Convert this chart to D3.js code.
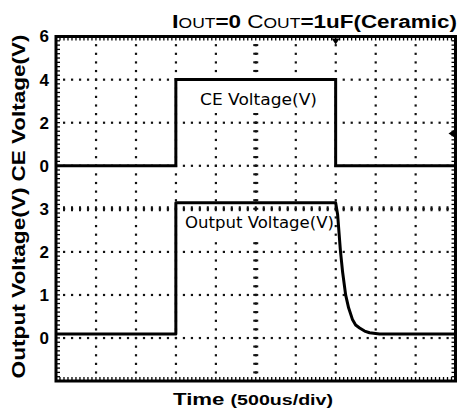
<!DOCTYPE html>
<html>
<head>
<meta charset="utf-8">
<script src="https://cdn.jsdelivr.net/npm/d3@7/dist/d3.min.js"></script>
<style>
body { margin: 0; background: #fff; }
svg { display: block; }
</style>
</head>
<body>
<div id="chart"></div>
<script>
// time in us (500us/div, 10 div)
var timeTicks = [0, 500, 1000, 1500, 2000, 2500, 3000, 3500, 4000, 4500, 5000];
var ceTicks = [0, 2, 4, 6];
var outTicks = [0, 1, 2, 3];

// CE voltage (V)
var ceTime = [0, 1500, 1500, 3500, 3500, 5000];
var ceVolt = [0, 0, 4, 4, 0, 0];

// Output voltage (V)
var outTime = [0, 1500, 1500, 3500, 3525, 3559, 3587, 3625, 3662, 3712, 3750, 3800, 3862, 3925, 4050, 5000];
var outVolt = [0.09, 0.09, 3.14, 3.14, 2.86, 2.04, 1.53, 1.00, 0.70, 0.42, 0.30, 0.23, 0.16, 0.12, 0.09, 0.09];

// scope markers
var triggerTime = 3500;
var triggerLevel = 1.5;

var W = 458, H = 416;
var font = "'Liberation Sans', Arial, sans-serif";

var svg = d3.select('#chart').append('svg')
    .attr('width', W)
    .attr('height', H);

// Scales
var x = d3.scaleLinear().domain([0, 5000]).range([56, 455.5]);
var yCE = d3.scaleLinear().domain([-10, 6]).range([381, 36.5]);
var yOut = d3.scaleLinear().domain([-1, 7]).range([381, 36.5]);
var yDiv = d3.scaleLinear().domain([0, 8]).range([36.5, 381]);
var xDiv = d3.scaleLinear().domain([0, 10]).range([56, 455.5]);

var grid = svg.append('g').attr('class', 'grid');

// dotted graticule, 5 dots per division
var i, j;
for (i = 1; i < 10; i++) {
    for (j = 1; j < 40; j++) {
        grid.append('rect')
            .attr('x', xDiv(i) - 1).attr('y', yDiv(j / 5) - 1)
            .attr('width', 2.2).attr('height', 2.2).attr('fill', '#111');
    }
}
for (i = 1; i < 8; i++) {
    for (j = 1; j < 50; j++) {
        grid.append('rect')
            .attr('x', xDiv(j / 5) - 1).attr('y', yDiv(i) - 1)
            .attr('width', 2.2).attr('height', 2.2).attr('fill', '#111');
    }
}
// center lines with minor ticks
for (j = 1; j < 40; j++) {
    grid.append('line')
        .attr('x1', xDiv(5) - 2.5).attr('x2', xDiv(5) + 2.5)
        .attr('y1', yDiv(j / 5)).attr('y2', yDiv(j / 5))
        .attr('stroke', '#111').attr('stroke-width', 2);
}
for (j = 1; j < 50; j++) {
    grid.append('line')
        .attr('x1', xDiv(j / 5)).attr('x2', xDiv(j / 5))
        .attr('y1', yDiv(4) - 2.5).attr('y2', yDiv(4) + 2.5)
        .attr('stroke', '#111').attr('stroke-width', 2);
}

// white boxes behind the inside labels
svg.append('rect')
    .attr('x', x(1500) + 3).attr('y', yCE(4) + 2)
    .attr('width', x(3500) - x(1500) - 6).attr('height', 30)
    .attr('fill', '#fff');
svg.append('rect')
    .attr('x', x(1500) + 3).attr('y', yDiv(4) + 3)
    .attr('width', x(3500) - x(1500) - 6).attr('height', 27)
    .attr('fill', '#fff');

// frame
svg.append('rect')
    .attr('x', xDiv(0)).attr('y', yDiv(0))
    .attr('width', xDiv(10) - xDiv(0)).attr('height', yDiv(8) - yDiv(0))
    .attr('fill', 'none').attr('stroke', '#000').attr('stroke-width', 3);

// frame ticks, 10 per division
var ft = svg.append('g').attr('stroke', '#000').attr('stroke-width', 1.3);
for (j = 1; j < 100; j++) {
    ft.append('line').attr('x1', xDiv(j / 10)).attr('x2', xDiv(j / 10))
        .attr('y1', yDiv(0)).attr('y2', yDiv(0) + 4);
    ft.append('line').attr('x1', xDiv(j / 10)).attr('x2', xDiv(j / 10))
        .attr('y1', yDiv(8)).attr('y2', yDiv(8) - 4);
}
for (j = 1; j < 80; j++) {
    ft.append('line').attr('y1', yDiv(j / 10)).attr('y2', yDiv(j / 10))
        .attr('x1', xDiv(0)).attr('x2', xDiv(0) + 4);
    ft.append('line').attr('y1', yDiv(j / 10)).attr('y2', yDiv(j / 10))
        .attr('x1', xDiv(10)).attr('x2', xDiv(10) - 4);
}

// trigger markers
svg.append('path')
    .attr('d', 'M' + (x(triggerTime) - 4) + ',' + (yDiv(0) + 2) + 'L' + (x(triggerTime) + 4) + ',' + (yDiv(0) + 2) +
        'L' + x(triggerTime) + ',' + (yDiv(0) + 8) + 'Z')
    .attr('fill', '#000');
svg.append('path')
    .attr('d', 'M' + (xDiv(10) - 1) + ',' + (yCE(triggerLevel) - 4) + 'L' + (xDiv(10) - 1) + ',' + (yCE(triggerLevel) + 4) +
        'L' + (xDiv(10) - 7) + ',' + yCE(triggerLevel) + 'Z')
    .attr('fill', '#000');

// waveforms
var ceData = ceTime.map(function(t, k) { return [t, ceVolt[k]]; });
var outData = outTime.map(function(t, k) { return [t, outVolt[k]]; });

svg.append('path')
    .datum(ceData)
    .attr('fill', 'none').attr('stroke', '#000').attr('stroke-width', 3)
    .attr('d', d3.line().x(function(d) { return x(d[0]); }).y(function(d) { return yCE(d[1]); }));

svg.append('path')
    .datum(outData)
    .attr('fill', 'none').attr('stroke', '#000').attr('stroke-width', 3)
    .attr('stroke-linejoin', 'round')
    .attr('d', d3.line().x(function(d) { return x(d[0]); }).y(function(d) { return yOut(d[1]); }));

// tick labels
function styleAxis(g) {
    g.select('.domain').remove();
    g.selectAll('text')
        .attr('font-family', font)
        .attr('font-weight', 'bold')
        .attr('font-size', 17)
        .attr('fill', '#000');
}
svg.append('g')
    .attr('transform', 'translate(' + xDiv(0) + ',0)')
    .call(d3.axisLeft(yCE).tickValues(ceTicks).tickSize(0).tickPadding(7))
    .call(styleAxis);
svg.append('g')
    .attr('transform', 'translate(' + xDiv(0) + ',0)')
    .call(d3.axisLeft(yOut).tickValues(outTicks).tickSize(0).tickPadding(7))
    .call(styleAxis);

// inside labels
svg.append('text')
    .attr('x', 200).attr('y', 105)
    .attr('font-family', "'DejaVu Sans', sans-serif").attr('font-size', 15)
    .attr('textLength', 117).attr('lengthAdjust', 'spacingAndGlyphs')
    .text('CE Voltage(V)');
svg.append('text')
    .attr('x', 185).attr('y', 228)
    .attr('font-family', "'DejaVu Sans', sans-serif").attr('font-size', 15)
    .attr('textLength', 149).attr('lengthAdjust', 'spacingAndGlyphs')
    .text('Output Voltage(V)');

// y axis titles
svg.append('text')
    .attr('transform', 'translate(25,108) rotate(-90)')
    .attr('text-anchor', 'middle')
    .attr('font-family', font).attr('font-weight', 'bold').attr('font-size', 18)
    .attr('textLength', 147).attr('lengthAdjust', 'spacingAndGlyphs')
    .text('CE Voltage(V)');
svg.append('text')
    .attr('transform', 'translate(25,283) rotate(-90)')
    .attr('text-anchor', 'middle')
    .attr('font-family', font).attr('font-weight', 'bold').attr('font-size', 18)
    .attr('textLength', 191).attr('lengthAdjust', 'spacingAndGlyphs')
    .text('Output Voltage(V)');

// title
var title = svg.append('text')
    .attr('x', 172).attr('y', 28)
    .attr('font-family', font).attr('font-size', 18)
    .attr('textLength', 285).attr('lengthAdjust', 'spacingAndGlyphs');
title.append('tspan').attr('font-weight', 'bold').attr('font-size', 19).text('I');
title.append('tspan').attr('font-size', 14).text('OUT');
title.append('tspan').attr('font-weight', 'bold').text('=0 ');
title.append('tspan').text('C');
title.append('tspan').attr('font-size', 14).text('OUT');
title.append('tspan').attr('font-weight', 'bold').text('=1uF(Ceramic)');

// x axis title
var xt = svg.append('text')
    .attr('x', 173).attr('y', 405)
    .attr('font-family', font).attr('font-weight', 'bold').attr('font-size', 17)
    .attr('textLength', 160).attr('lengthAdjust', 'spacingAndGlyphs');
xt.append('tspan').text('Time ');
xt.append('tspan').attr('font-size', 15).text('(500us/div)');
</script>
</body>
</html>
